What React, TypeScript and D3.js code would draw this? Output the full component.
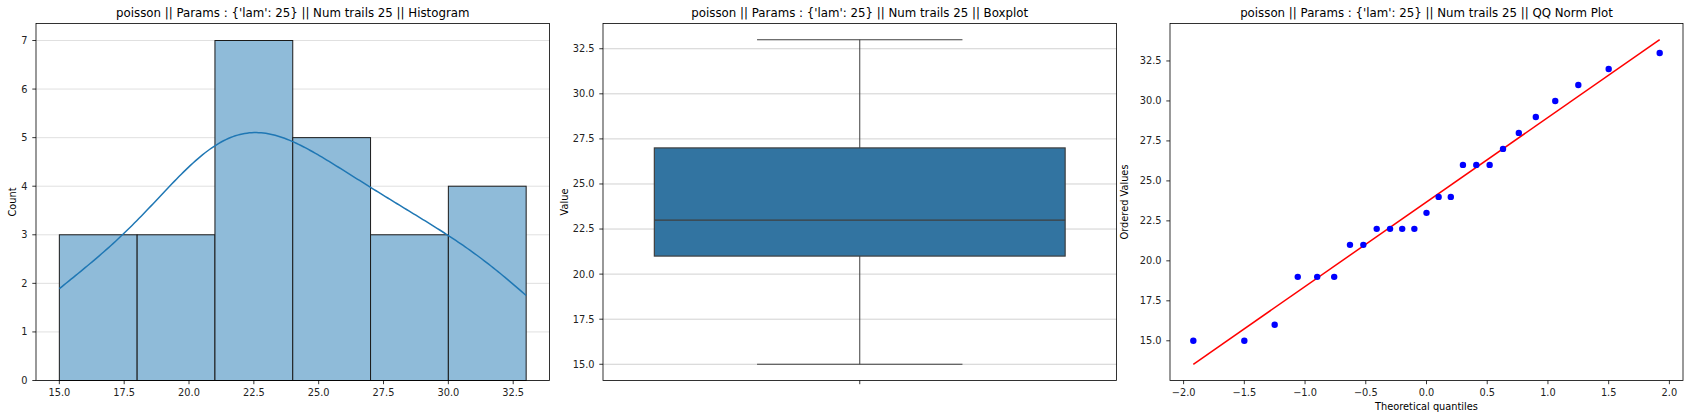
import React from "react";
import * as d3 from "d3";

// ---------------- data ----------------
const titlePrefix = "poisson || Params : {'lam': 25} || Num trails 25 || ";
const panelNames = ["Histogram", "Boxplot", "QQ Norm Plot"];

// sample values (sorted)
const samples = [15, 15, 16, 19, 19, 19, 21, 21, 22, 22, 22, 22, 23, 24, 24, 26, 26, 26, 27, 28, 29, 30, 31, 32, 33];
// histogram bin edges
const binEdges = [15, 18, 21, 24, 27, 30, 33];
// theoretical normal quantiles (x of the QQ points)
const theoreticalQuantiles = [
  -1.92, -1.5, -1.25, -1.06, -0.9, -0.76, -0.63, -0.52, -0.41, -0.3, -0.2, -0.1, 0,
  0.1, 0.2, 0.3, 0.41, 0.52, 0.63, 0.76, 0.9, 1.06, 1.25, 1.5, 1.92,
];

const histXTicks = [15, 17.5, 20, 22.5, 25, 27.5, 30, 32.5];
const histYTicks = [0, 1, 2, 3, 4, 5, 6, 7];
const valueTicks = [15, 17.5, 20, 22.5, 25, 27.5, 30, 32.5];
const qqXTicks = [-2, -1.5, -1, -0.5, 0, 0.5, 1, 1.5, 2];

// ---------------- layout ----------------
const W = 1691;
const H = 414;
const TOP = 23.5;
const BOTTOM = 380.5;
const panels = [
  { x0: 36, x1: 549.5 },
  { x0: 603, x1: 1116.5 },
  { x0: 1170, x1: 1683 },
];
const FONT = "DejaVu Sans, sans-serif";
const TICK_FS = 9.8;
const TITLE_FS = 11.8;
const TICK_LEN = 3.7;
const AXIS = "#000";
const f1 = d3.format(".1f");

function pad(ext: [number, number], frac = 0.05): [number, number] {
  const r = ext[1] - ext[0];
  return [ext[0] - r * frac, ext[1] + r * frac];
}

function Frame({ p, title }: { p: { x0: number; x1: number }; title: string }) {
  return (
    <g>
      <rect x={p.x0} y={TOP} width={p.x1 - p.x0} height={BOTTOM - TOP} fill="none" stroke={AXIS} strokeWidth={0.8} />
      <text x={(p.x0 + p.x1) / 2} y={17} textAnchor="middle" fontSize={TITLE_FS} fontFamily={FONT} fill="#000">
        {title}
      </text>
    </g>
  );
}

function YAxis({ x0, scale, ticks, fmt }: { x0: number; scale: any; ticks: number[]; fmt: (v: number) => string }) {
  return (
    <g>
      {ticks.map((t) => (
        <g key={t}>
          <line x1={x0 - TICK_LEN} x2={x0} y1={scale(t)} y2={scale(t)} stroke={AXIS} strokeWidth={0.8} />
          <text x={x0 - 8.5} y={scale(t)} dy="0.35em" textAnchor="end" fontSize={TICK_FS} fontFamily={FONT} fill="#222">
            {fmt(t)}
          </text>
        </g>
      ))}
    </g>
  );
}

function XAxis({ scale, ticks, fmt }: { scale: any; ticks: number[]; fmt: (v: number) => string }) {
  return (
    <g>
      {ticks.map((t) => (
        <g key={t}>
          <line x1={scale(t)} x2={scale(t)} y1={BOTTOM} y2={BOTTOM + TICK_LEN} stroke={AXIS} strokeWidth={0.8} />
          <text x={scale(t)} y={395.5} textAnchor="middle" fontSize={TICK_FS} fontFamily={FONT} fill="#222">
            {fmt(t)}
          </text>
        </g>
      ))}
    </g>
  );
}

function YLabel({ x, text }: { x: number; text: string }) {
  const cy = (TOP + BOTTOM) / 2;
  return (
    <text
      transform={`translate(${x},${cy}) rotate(-90)`}
      dy="0.35em"
      textAnchor="middle"
      fontSize={TICK_FS}
      fontFamily={FONT}
      fill="#000"
    >
      {text}
    </text>
  );
}

// ---------------- histogram ----------------
function Histogram() {
  const p = panels[0];
  const n = samples.length;
  const last = binEdges.length - 2;
  const bins = binEdges.slice(0, -1).map((lo, i) => {
    const hi = binEdges[i + 1];
    const count = samples.filter((v) => v >= lo && (v < hi || (i === last && v <= hi))).length;
    return { lo, hi, count };
  });
  const maxCount = d3.max(bins, (b) => b.count) as number;
  const x = d3.scaleLinear().domain(pad([binEdges[0], binEdges[binEdges.length - 1]])).range([p.x0, p.x1]);
  const y = d3.scaleLinear().domain([0, maxCount * 1.05]).range([BOTTOM, TOP]);

  // gaussian KDE (scott bandwidth) scaled to counts
  const sd = d3.deviation(samples) as number;
  const bw = Math.pow(n, -1 / 5) * sd;
  const binW = binEdges[1] - binEdges[0];
  const lo = d3.min(samples) as number;
  const hi = d3.max(samples) as number;
  const grid = d3.range(200).map((i) => lo + ((hi - lo) * i) / 199);
  const kde = grid.map((g) => {
    const dens = d3.sum(samples, (s) => Math.exp(-0.5 * ((g - s) / bw) ** 2)) / (n * bw * Math.sqrt(2 * Math.PI));
    return [g, dens * n * binW] as [number, number];
  });
  const line = d3
    .line<[number, number]>()
    .x((d) => x(d[0]))
    .y((d) => y(d[1]))
    .curve(d3.curveLinear);

  return (
    <g>
      {histYTicks.map((t) => (
        <line key={t} x1={p.x0} x2={p.x1} y1={y(t)} y2={y(t)} stroke="#dcdcdc" strokeWidth={0.9} />
      ))}
      {bins.map((b, i) => (
        <rect
          key={i}
          x={x(b.lo)}
          y={y(b.count)}
          width={x(b.hi) - x(b.lo)}
          height={y(0) - y(b.count)}
          fill="#8fbbd9"
          stroke="#1a1a1a"
          strokeWidth={1}
        />
      ))}
      <path d={line(kde) as string} fill="none" stroke="#1f77b4" strokeWidth={1.5} />
      <Frame p={p} title={titlePrefix + panelNames[0]} />
      <YAxis x0={p.x0} scale={y} ticks={histYTicks} fmt={(v) => String(v)} />
      <XAxis scale={x} ticks={histXTicks} fmt={f1} />
      <YLabel x={13} text="Count" />
    </g>
  );
}

// ---------------- boxplot ----------------
function Boxplot() {
  const p = panels[1];
  const sorted = [...samples].sort((a, b) => a - b);
  const q1 = d3.quantile(sorted, 0.25) as number;
  const med = d3.quantile(sorted, 0.5) as number;
  const q3 = d3.quantile(sorted, 0.75) as number;
  const iqr = q3 - q1;
  const wLo = d3.min(sorted.filter((v) => v >= q1 - 1.5 * iqr)) as number;
  const wHi = d3.max(sorted.filter((v) => v <= q3 + 1.5 * iqr)) as number;
  const y = d3.scaleLinear().domain(pad([d3.min(samples) as number, d3.max(samples) as number])).range([BOTTOM, TOP]);
  const x = d3.scaleLinear().domain([-0.5, 0.5]).range([p.x0, p.x1]);
  const lc = "#3f3f3f";
  return (
    <g>
      {valueTicks.map((t) => (
        <line key={t} x1={p.x0} x2={p.x1} y1={y(t)} y2={y(t)} stroke="#cccccc" strokeWidth={0.9} />
      ))}
      <line x1={x(0)} x2={x(0)} y1={y(wLo)} y2={y(q1)} stroke={lc} strokeWidth={1} />
      <line x1={x(0)} x2={x(0)} y1={y(q3)} y2={y(wHi)} stroke={lc} strokeWidth={1} />
      <line x1={x(-0.2)} x2={x(0.2)} y1={y(wLo)} y2={y(wLo)} stroke={lc} strokeWidth={1.2} />
      <line x1={x(-0.2)} x2={x(0.2)} y1={y(wHi)} y2={y(wHi)} stroke={lc} strokeWidth={1.2} />
      <rect x={x(-0.4)} y={y(q3)} width={x(0.4) - x(-0.4)} height={y(q1) - y(q3)} fill="#3274a1" stroke={lc} strokeWidth={1.2} />
      <line x1={x(-0.4)} x2={x(0.4)} y1={y(med)} y2={y(med)} stroke={lc} strokeWidth={1.2} />
      <Frame p={p} title={titlePrefix + panelNames[1]} />
      <YAxis x0={p.x0} scale={y} ticks={valueTicks} fmt={f1} />
      <line x1={x(0)} x2={x(0)} y1={BOTTOM} y2={BOTTOM + TICK_LEN} stroke={AXIS} strokeWidth={0.8} />
      <YLabel x={565} text="Value" />
    </g>
  );
}

// ---------------- QQ plot ----------------
function QQPlot() {
  const p = panels[2];
  const ys = [...samples].sort((a, b) => a - b);
  const xs = theoreticalQuantiles;
  const mx = d3.mean(xs) as number;
  const my = d3.mean(ys) as number;
  const slope =
    d3.sum(xs, (xv, i) => (xv - mx) * (ys[i] - my)) / d3.sum(xs, (xv) => (xv - mx) ** 2);
  const intercept = my - slope * mx;
  const xExt = d3.extent(xs) as [number, number];
  const lineYs = xExt.map((v) => slope * v + intercept);
  const yExt: [number, number] = [
    Math.min(d3.min(ys) as number, ...lineYs),
    Math.max(d3.max(ys) as number, ...lineYs),
  ];
  const x = d3.scaleLinear().domain(pad(xExt)).range([p.x0, p.x1]);
  const y = d3.scaleLinear().domain(pad(yExt)).range([BOTTOM, TOP]);
  return (
    <g>
      <line x1={x(xExt[0])} y1={y(lineYs[0])} x2={x(xExt[1])} y2={y(lineYs[1])} stroke="#ff0000" strokeWidth={1.5} />
      {xs.map((xv, i) => (
        <circle key={i} cx={x(xv)} cy={y(ys[i])} r={3.2} fill="#0000ff" />
      ))}
      <Frame p={p} title={titlePrefix + panelNames[2]} />
      <YAxis x0={p.x0} scale={y} ticks={valueTicks} fmt={f1} />
      <XAxis scale={x} ticks={qqXTicks} fmt={f1} />
      <YLabel x={1125} text="Ordered Values" />
      <text x={(p.x0 + p.x1) / 2} y={409.5} textAnchor="middle" fontSize={TICK_FS} fontFamily={FONT} fill="#000">
        Theoretical quantiles
      </text>
    </g>
  );
}

export default function App() {
  return (
    <svg
      width={W}
      height={H}
      viewBox={`0 0 ${W} ${H}`}
      style={{ position: "absolute", left: 0, top: 0, background: "#fff" }}
    >
      <rect x={0} y={0} width={W} height={H} fill="#fff" />
      <Histogram />
      <Boxplot />
      <QQPlot />
    </svg>
  );
}
